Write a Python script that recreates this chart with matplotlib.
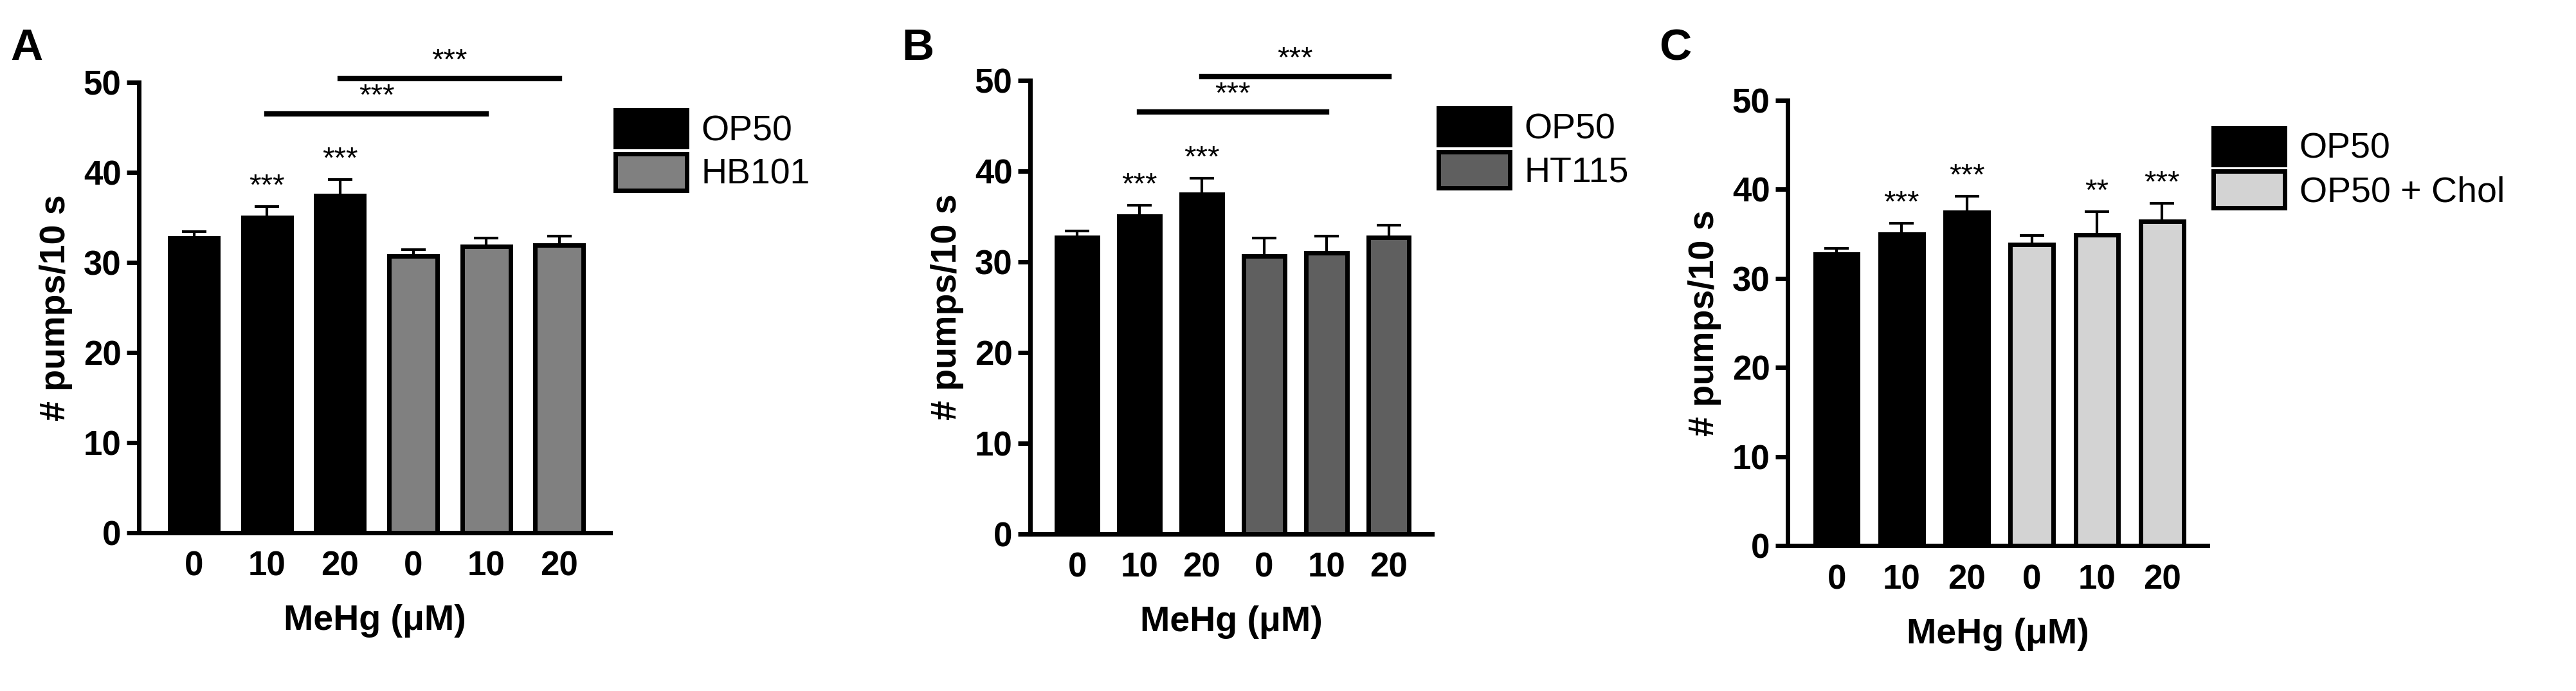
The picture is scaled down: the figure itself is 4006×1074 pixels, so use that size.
import matplotlib
matplotlib.use("Agg")
import matplotlib.pyplot as plt
from matplotlib.patches import Patch

plt.rcParams['font.family'] = ['Liberation Sans', 'DejaVu Sans']

doses = ["0", "10", "20", "0", "10", "20"]
op50 = [32.7, 35.0, 37.4]
op50_err = [0.7, 1.2, 1.8]
hb101 = [30.7, 31.8, 31.9]
hb101_err = [0.7, 0.9, 1.0]
ht115 = [30.6, 31.0, 32.7]
ht115_err = [2.0, 1.8, 1.3]
chol = [33.8, 34.9, 36.4]
chol_err = [1.0, 2.6, 2.0]

panels = [
    dict(letter="A", name="HB101", vals=hb101, err=hb101_err, color="#808080",
         pos=[0.054, 0.229, 0.183, 0.652], stars=["", "***", "***", "", "", ""], brackets=True),
    dict(letter="B", name="HT115", vals=ht115, err=ht115_err, color="#5f5f5f",
         pos=[0.400, 0.227, 0.156, 0.657], stars=["", "***", "***", "", "", ""], brackets=True),
    dict(letter="C", name="OP50 + Chol", vals=chol, err=chol_err, color="#d3d3d3",
         pos=[0.694, 0.210, 0.163, 0.645], stars=["", "***", "***", "", "**", "***"], brackets=False),
]

fig = plt.figure(figsize=(40.06, 10.74), dpi=100)
for p in panels:
    ax = fig.add_axes(p["pos"])
    vals = op50 + p["vals"]
    errs = op50_err + p["err"]
    x = list(range(6))
    colors = ["black"] * 3 + [p["color"]] * 3
    ax.bar(x, vals, width=0.66, color=colors, edgecolor="black", linewidth=5, zorder=2)
    ax.errorbar(x, vals, yerr=[[0] * 6, errs], fmt="none", ecolor="black",
                elinewidth=3, capsize=14, capthick=3, zorder=1)
    for xi, v, e, s in zip(x, vals, errs, p["stars"]):
        if s:
            ax.text(xi, v + e + 0.6, s, ha="center", va="bottom", fontsize=34)
    if p["brackets"]:
        ax.plot([1, 4], [46.5, 46.5], color="black", lw=6, clip_on=False)
        ax.text(2.5, 46.8, "***", ha="center", va="bottom", fontsize=34)
        ax.plot([2, 5], [50.4, 50.4], color="black", lw=6, clip_on=False)
        ax.text(3.5, 50.7, "***", ha="center", va="bottom", fontsize=34, clip_on=False)
    ax.set_ylim(0, 50)
    ax.set_xlim(-0.75, 5.7)
    ax.set_yticks([0, 10, 20, 30, 40, 50])
    ax.set_xticks(x)
    ax.set_xticklabels(doses)
    for sp in ["top", "right"]:
        ax.spines[sp].set_visible(False)
    for sp in ["left", "bottom"]:
        ax.spines[sp].set_linewidth(5)
    ax.tick_params(axis="y", width=5, length=14, labelsize=38, pad=6)
    ax.tick_params(axis="x", length=0, labelsize=38, pad=20)
    for lab in ax.get_xticklabels() + ax.get_yticklabels():
        lab.set_fontweight("bold")
    ax.set_ylabel("# pumps/10 s", fontsize=40, fontweight="bold", labelpad=12)
    ax.set_xlabel("MeHg (\u03bcM)", fontsize=40, fontweight="bold", labelpad=24)
    handles = [Patch(facecolor="black", edgecolor="black", linewidth=5),
               Patch(facecolor=p["color"], edgecolor="black", linewidth=5)]
    ax.legend(handles, ["OP50", p["name"]], loc="upper left", bbox_to_anchor=(0.98, 0.97),
              frameon=False, fontsize=40, handlelength=2.0, handleheight=1.2,
              handletextpad=0.4, labelspacing=0.15, borderaxespad=0)
    fig.text(p["pos"][0] - 0.05, 0.93, p["letter"], fontsize=50, fontweight="bold",
             ha="left", va="center")

fig.savefig("out.png", dpi=100)
